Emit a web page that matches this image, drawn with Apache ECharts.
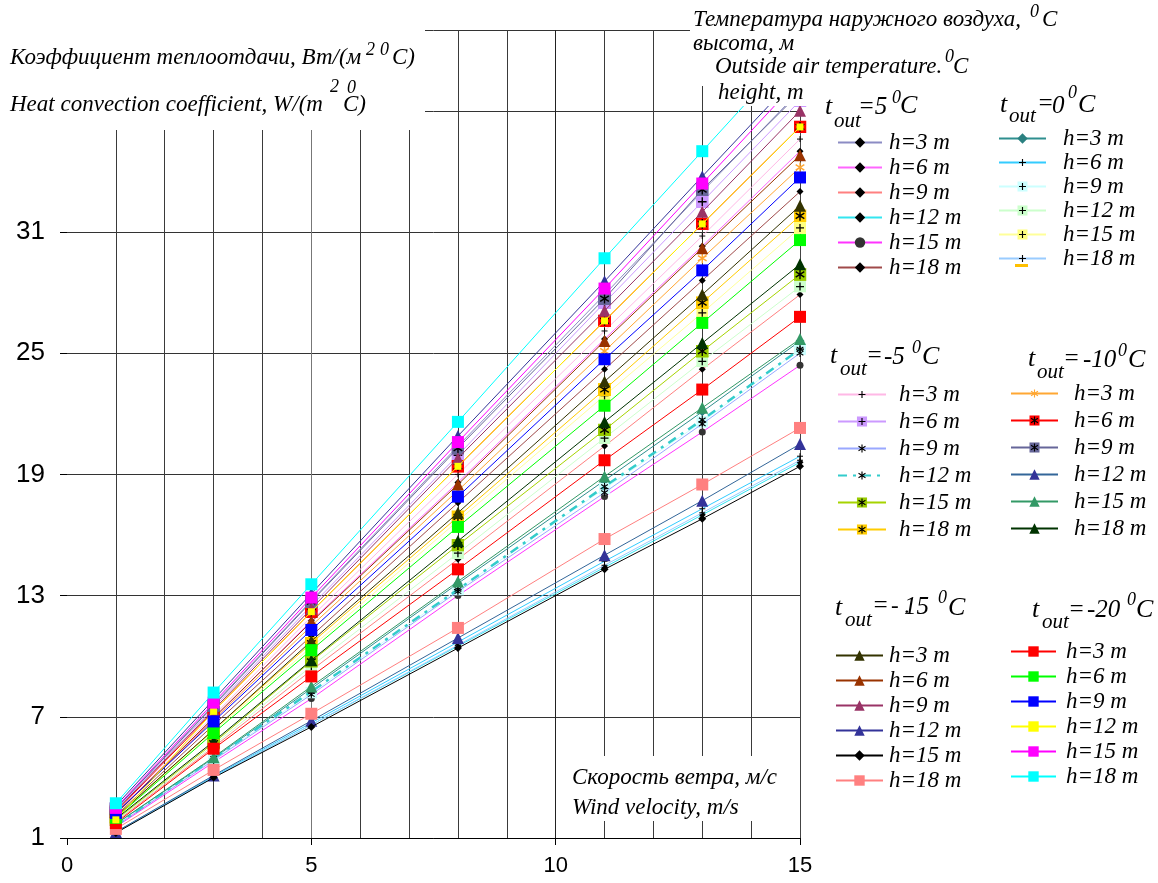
<!DOCTYPE html>
<html><head><meta charset="utf-8">
<script src="https://cdn.jsdelivr.net/npm/echarts@6/dist/echarts.min.js"></script>
<style>html,body{margin:0;padding:0;background:#fff}#c{width:1158px;height:883px}</style>
</head><body><div id="c"></div>
<script>
// ---------------- DATA ----------------
const windSpeed = [1, 3, 5, 8, 11, 13, 15];
const yTickLabels = [1, 7, 13, 19, 25, 31];
const xTickLabels = [0, 5, 10, 15];
const heights = ['h=3 m', 'h=6 m', 'h=9 m', 'h=12 m', 'h=15 m', 'h=18 m'];
const temperatures = ['5', '0', '-5', '-10', '-15', '-20'];

// heat convection coefficient, one row per height (3,6,9,12,15,18 m)
const tOut5 = [
  [2.45, 7.6, 12.75, 20.4, 27.9, 33.0, 38.0],
  [2.2, 6.9, 11.75, 18.6, 25.7, 30.3, 35.0],
  [1.8, 5.5, 9.3, 14.8, 20.4, 24.2, 27.9],
  [1.27, 4.0, 6.6, 10.5, 14.4, 17.0, 19.6],
  [1.55, 4.75, 7.9, 13.0, 17.9, 21.1, 24.4],
  [2.1, 6.6, 11.0, 17.6, 24.2, 28.6, 33.0]
];
const tOut0 = [
  [1.68, 4.95, 8.4, 13.6, 18.7, 22.1, 25.6],
  [1.3, 4.05, 6.7, 10.7, 14.7, 17.3, 19.9],
  [1.65, 4.9, 8.2, 13.3, 18.3, 21.6, 25.2],
  [1.85, 5.6, 9.5, 15.1, 20.8, 24.6, 28.3],
  [2.0, 6.3, 10.45, 16.7, 22.9, 27.0, 31.2],
  [1.28, 4.0, 6.6, 10.55, 14.5, 17.1, 19.7]
];
const tOutM5 = [
  [2.25, 7.05, 11.95, 19.0, 26.1, 30.8, 35.6],
  [2.4, 7.45, 12.5, 19.95, 27.5, 32.5, 37.5],
  [1.6, 4.85, 8.1, 13.2, 18.1, 21.5, 25.0],
  [1.62, 4.95, 8.25, 13.3, 18.4, 21.7, 25.2],
  [1.9, 5.7, 9.75, 15.5, 21.2, 25.1, 28.9],
  [2.05, 6.36, 10.65, 16.9, 23.2, 27.5, 31.8]
];
const tOutM10 = [
  [2.18, 6.85, 11.5, 18.2, 25.1, 29.7, 34.2],
  [2.3, 7.27, 12.2, 19.4, 26.6, 31.4, 36.2],
  [2.45, 7.55, 12.7, 20.3, 27.7, 33.1, 37.9],
  [1.3, 4.1, 6.8, 10.9, 15.0, 17.7, 20.5],
  [1.7, 5.0, 8.5, 13.7, 18.9, 22.3, 25.7],
  [1.95, 5.78, 9.8, 15.7, 21.6, 25.5, 29.4]
];
const tOutM15 = [
  [2.05, 6.36, 10.75, 17.1, 23.6, 27.9, 32.3],
  [2.2, 6.95, 11.7, 18.5, 25.6, 30.2, 34.8],
  [2.35, 7.35, 12.35, 19.8, 27.1, 32.0, 37.0],
  [2.6, 7.85, 13.1, 20.9, 28.56, 33.75, 38.9],
  [1.25, 3.99, 6.5, 10.4, 14.3, 16.8, 19.4],
  [1.45, 4.37, 7.15, 11.4, 15.8, 18.5, 21.3]
];
const tOutM20 = [
  [1.74, 5.42, 9.0, 14.3, 19.7, 23.2, 26.8],
  [2.0, 6.2, 10.3, 16.4, 22.4, 26.5, 30.6],
  [2.24, 6.77, 11.3, 17.9, 24.7, 29.1, 33.7],
  [1.9, 7.27, 12.2, 19.4, 26.6, 31.4, 36.2],
  [2.49, 7.7, 12.9, 20.6, 28.2, 33.4, 38.6],
  [2.72, 8.2, 13.56, 21.6, 29.7, 35.0, 40.3]
];
const groupValues = [tOut5, tOut0, tOutM5, tOutM10, tOutM15, tOutM20];

// ---------------- STYLES ----------------
function svgSym(bg, glyph, gColor) {
  let s = "<svg xmlns='http://www.w3.org/2000/svg' width='24' height='24' viewBox='0 0 24 24'>";
  if (bg) s += "<rect x='0' y='0' width='24' height='24' fill='" + bg + "'/>";
  if (glyph === 'plus') s += "<path d='M12 4V20M4 12H20' stroke='" + gColor + "' stroke-width='2.6' fill='none'/>";
  if (glyph === 'star') s += "<path d='M12 3V21M4 7L20 17M20 7L4 17' stroke='" + gColor + "' stroke-width='2.6' fill='none'/>";
  s += '</svg>';
  return 'image://data:image/svg+xml;charset=utf-8,' + encodeURIComponent(s);
}
const PLUS = svgSym(null, 'plus', '#000');
const STAR = svgSym(null, 'star', '#000');

const lineColors = [
  ['#8c8cc4', '#ff66ff', '#ff8080', '#33e6f0', '#ff33ff', '#a04a4a'],
  ['#2f8f8f', '#33ccff', '#ccffff', '#ccffcc', '#ffff99', '#99ccff'],
  ['#ffb8e6', '#cc99ff', '#99a8ff', '#33cccc', '#a6d400', '#ffcc00'],
  ['#ffa733', '#ff0000', '#666699', '#336699', '#339966', '#003300'],
  ['#333300', '#993300', '#993366', '#333399', '#000000', '#ff8080'],
  ['#ff0000', '#00ff00', '#0000ff', '#ffff00', '#ff00ff', '#00ffff']
];
const symbols = [
  ['diamond', 'diamond', 'diamond', 'diamond', 'circle', 'diamond'],
  ['diamond', PLUS, svgSym('#ccffff', 'plus', '#000'), svgSym('#ccffcc', 'plus', '#000'), svgSym('#ffff80', 'plus', '#000'), PLUS],
  [PLUS, svgSym('#cc99ff', 'plus', '#000'), STAR, STAR, svgSym('#99cc00', 'star', '#000'), svgSym('#ffcc00', 'star', '#000')],
  [svgSym(null, 'star', '#ffa733'), svgSym('#ff0000', 'star', '#000'), svgSym('#666699', 'star', '#000'), 'triangle', 'triangle', 'triangle'],
  ['triangle', 'triangle', 'triangle', 'triangle', 'diamond', 'rect'],
  ['rect', 'rect', 'rect', 'rect', 'rect', 'rect']
];
const symbolColors = [
  ['#000', '#000', '#000', '#000', '#333', '#000'],
  ['#2a8080', '#000', '#000', '#000', '#000', '#000'],
  ['#000', '#000', '#000', '#000', '#000', '#000'],
  ['#ffa733', '#ff0000', '#666699', '#333399', '#339966', '#003300'],
  ['#333300', '#993300', '#993366', '#333399', '#000000', '#ff8080'],
  ['#ff0000', '#00ff00', '#0000ff', '#ffff00', '#ff00ff', '#00ffff']
];
const symbolSizes = [
  [7, 7, 7, 7, 7, 7],
  [9, 9, 12, 12, 12, 9],
  [9, 13, 10, 10, 13, 13],
  [13, 13, 13, 12, 12, 12],
  [12, 12, 12, 12, 8, 12],
  [12, 12, 12, 7, 12, 12]
];

const series = [];
const legendNames = [];
groupValues.forEach((grp, gi) => {
  const names = [];
  grp.forEach((vals, hi) => {
    const name = temperatures[gi] + '|' + heights[hi];
    names.push(name);
    const dashed = (gi === 2 && hi === 3);
    series.push({
      name: name,
      type: 'line',
      data: windSpeed.map((x, i) => [x, vals[i]]),
      symbol: symbols[gi][hi],
      symbolSize: symbolSizes[gi][hi],
      showAllSymbol: true,
      lineStyle: { color: lineColors[gi][hi], width: dashed ? 2.5 : 1, type: dashed ? [9, 6, 3, 6] : 'solid' },
      itemStyle: { color: symbolColors[gi][hi], borderWidth: 0 },
      emphasis: { disabled: true },
      animation: false,
      z: 2 + gi
    });
  });
  legendNames.push(names);
});

function mkLegend(names, left, top, gap, itemWidth, textPad) {
  return {
    orient: 'vertical', left: left, top: top, itemGap: gap, itemWidth: itemWidth, itemHeight: 13,
    padding: 0, data: names, selectedMode: false,
    formatter: n => n.split('|')[1],
    lineStyle: { width: 2 },
    textStyle: { fontFamily: '"Liberation Serif"', fontStyle: 'italic', fontSize: 23, color: '#000', lineHeight: 22, padding: [0, 0, 0, textPad] }
  };
}
const legends = [
  mkLegend(legendNames[0], 837, 131, 2, 44, 2),
  mkLegend(legendNames[1], 998, 127, 1, 47, 12),
  mkLegend(legendNames[2], 837, 383, 4, 48, 8),
  mkLegend(legendNames[3], 1010, 382, 4, 47, 11),
  mkLegend(legendNames[4], 835, 644, 2, 47, 1),
  mkLegend(legendNames[5], 1010, 640, 2, 45, 5)
];

// ---------------- TEXT OVERLAYS ----------------
const SERIF = '"Liberation Serif"';
function txt(t, x, y, size) {
  return { type: 'text', x: x, y: y, z: 60, silent: true,
    style: { text: t, font: 'italic ' + size + 'px ' + SERIF, fill: '#000', textAlign: 'left', textVerticalAlign: 'middle' } };
}
function rect(x, y, w, h) {
  return { type: 'rect', z: 50, silent: true, shape: { x: x, y: y, width: w, height: h }, style: { fill: '#fff' } };
}
const graphics = [
  rect(0, 0, 425, 130),
  rect(690, 0, 468, 86),
  rect(706, 86, 452, 20),
  rect(558, 756, 240, 65),
  // left title
  txt('Коэффициент теплоотдачи, Вт/(м', 10, 58, 23),
  txt('2', 366, 50, 18), txt('0', 380, 50, 18), txt('C)', 392, 58, 23),
  txt('Heat convection coefficient, W/(m', 10, 105, 23),
  txt('2', 330, 87, 18), txt('0', 347, 88, 18), txt('C)', 343, 105, 23),
  // right title
  txt('Температура наружного воздуха,', 693, 20, 23),
  txt('0', 1030, 12, 18), txt('C', 1042, 20, 23),
  txt('высота, м', 693, 44, 23),
  txt('Outside air temperature.', 715, 67, 23),
  txt('0', 945, 57, 18), txt('C', 953, 67, 23),
  txt('height, m', 718, 93, 23),
  // axis captions
  txt('Скорость ветра, м/с', 572, 778, 23),
  txt('Wind velocity, m/s', 572, 808, 23),
  // legend group titles
  txt('t', 825, 107, 26), txt('out', 834, 121, 21), txt('=5', 858, 107, 25), txt('0', 892, 98, 18), txt('C', 900, 106, 26),
  txt('t', 1000, 105, 26), txt('out', 1009, 116, 21), txt('=', 1037, 104, 25), txt('0', 1052, 106, 25), txt('0', 1068, 93, 18), txt('C', 1078, 105, 26),
  txt('t', 830, 356, 26), txt('out', 840, 369, 21), txt('=', 866, 356, 25), txt('-5', 884, 357, 25), txt('0', 912, 348, 18), txt('C', 922, 357, 26),
  txt('t', 1028, 359, 26), txt('out', 1037, 372, 21), txt('=', 1063, 359, 25), txt('-10', 1083, 360, 25), txt('0', 1118, 351, 18), txt('C', 1128, 360, 26),
  txt('t', 835, 608, 26), txt('out', 845, 620, 21), txt('=', 872, 606, 25), txt('- .', 891, 607, 23), txt('15', 904, 607, 25), txt('0', 938, 598, 18), txt('C', 948, 608, 26),
  txt('t', 1032, 610, 26), txt('out', 1042, 622, 21), txt('=', 1068, 610, 25), txt('-20', 1087, 610, 25), txt('0', 1127, 600, 18), txt('C', 1136, 610, 26),
  { type: 'rect', z: 60, silent: true, shape: { x: 1015, y: 264, width: 13, height: 3 }, style: { fill: '#ffc000' } }
];

// ---------------- CHART ----------------
const chart = echarts.init(document.getElementById('c'), null, { renderer: 'canvas' });
chart.setOption({
  backgroundColor: '#fff',
  animation: false,
  grid: { left: 67, right: 358, top: 30, bottom: 45, containLabel: false },
  xAxis: {
    type: 'value', min: 0, max: 15, interval: 5,
    axisLine: { show: true, lineStyle: { color: '#000', width: 1 } },
    axisTick: { show: true, length: 7, lineStyle: { color: '#000' } },
    axisLabel: { fontSize: 22, color: '#000', fontFamily: '"Liberation Sans"', margin: 17,
      formatter: v => (xTickLabels.indexOf(v) >= 0 ? String(v) : '') },
    splitLine: { show: true, lineStyle: { color: ['rgba(0,0,0,0)', '#777', '#222', '#444'], width: 1 } },
    minorTick: { show: false, splitNumber: 5 },
    minorSplitLine: { show: true, lineStyle: { color: '#3a3a3a', width: 1 } }
  },
  yAxis: {
    type: 'value', min: 1, max: 41, interval: 6,
    axisLine: { show: false },
    axisTick: { show: true, length: 7, lineStyle: { color: '#000' } },
    axisLabel: { fontSize: 26, color: '#000', fontFamily: '"Liberation Sans"', margin: 22,
      formatter: v => (yTickLabels.indexOf(v) >= 0 ? String(v) : '') },
    splitLine: { show: true, lineStyle: { color: '#333', width: 1 } }
  },
  legend: legends,
  series: series,
  graphic: { elements: graphics }
});
</script>
</body></html>
